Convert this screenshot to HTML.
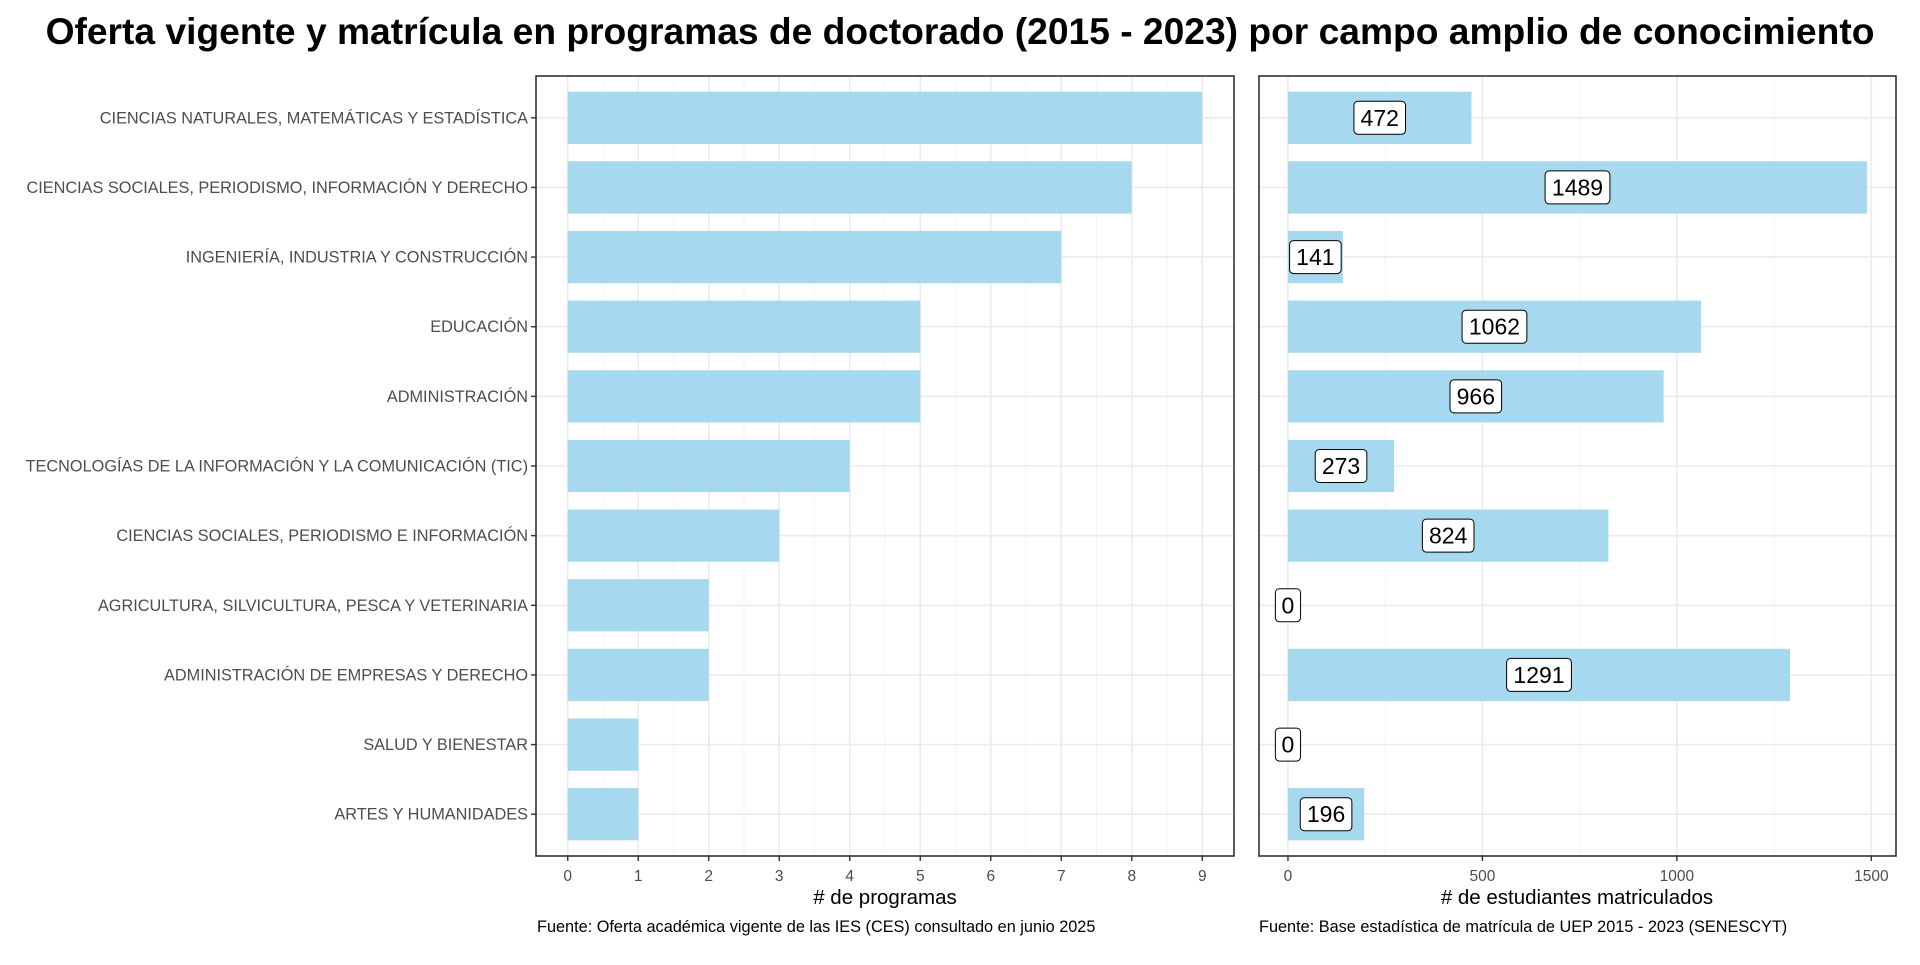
<!DOCTYPE html>
<html><head><meta charset="utf-8"><style>
html,body{margin:0;padding:0;background:#fff;}
svg text{font-family:"Liberation Sans",Arial,sans-serif;}
</style></head><body>
<svg id="chart" width="1920" height="960" viewBox="0 0 1920 960" xmlns="http://www.w3.org/2000/svg">
<text x="960" y="44" text-anchor="middle" font-size="37.2" font-weight="bold" fill="#000">Oferta vigente y matrícula en programas de doctorado (2015 - 2023) por campo amplio de conocimiento</text>
<g id="left"></g>
<g id="right"></g>
<text x="885" y="904" text-anchor="middle" font-size="20.5" fill="#000"># de programas</text>
<text x="1577" y="904" text-anchor="middle" font-size="20.5" fill="#000"># de estudiantes matriculados</text>
<text x="537" y="932" font-size="16.3" fill="#000">Fuente: Oferta académica vigente de las IES (CES) consultado en junio 2025</text>
<text x="1259" y="932" font-size="16.3" fill="#000">Fuente: Base estadística de matrícula de UEP 2015 - 2023 (SENESCYT)</text>
</svg>
<script>
const categories = ["CIENCIAS NATURALES, MATEMÁTICAS Y ESTADÍSTICA","CIENCIAS SOCIALES, PERIODISMO, INFORMACIÓN Y DERECHO","INGENIERÍA, INDUSTRIA Y CONSTRUCCIÓN","EDUCACIÓN","ADMINISTRACIÓN","TECNOLOGÍAS DE LA INFORMACIÓN Y LA COMUNICACIÓN (TIC)","CIENCIAS SOCIALES, PERIODISMO E INFORMACIÓN","AGRICULTURA, SILVICULTURA, PESCA Y VETERINARIA","ADMINISTRACIÓN DE EMPRESAS Y DERECHO","SALUD Y BIENESTAR","ARTES Y HUMANIDADES"];
const programs = [9,8,7,5,5,4,3,2,2,1,1];
const students = [472,1489,141,1062,966,273,824,0,1291,0,196];
const leftTicks = [0,1,2,3,4,5,6,7,8,9];
const rightTicks = [0,500,1000,1500];

const NS="http://www.w3.org/2000/svg";
function mk(tag,attrs,parent,text){const e=document.createElementNS(NS,tag);for(const k in attrs)e.setAttribute(k,attrs[k]);if(text!==undefined)e.textContent=text;parent.appendChild(e);return e;}
const pTop=76,pBottom=856,nCat=categories.length;
const step=(pBottom-pTop)/(nCat-1+1.2);
function yPos(i){return pTop+step*(0.6+i);}
const barH=step*0.75;

function panel(g,x0,x1,dmin,dmax,ticks,minor,values,withLabels,name){
  const sx=v=>x0+(v-dmin)/(dmax-dmin)*(x1-x0);
  minor.forEach(v=>{const l=mk('line',{x1:sx(v),x2:sx(v),y1:pTop,y2:pBottom,stroke:'#f2f2f2','stroke-width':0.8},g);
    
    });
  ticks.forEach(v=>{const l=mk('line',{x1:sx(v),x2:sx(v),y1:pTop,y2:pBottom,stroke:'#ebebeb','stroke-width':1.6},g);
    
    });
  categories.forEach((c,i)=>{const l=mk('line',{x1:x0,x2:x1,y1:yPos(i),y2:yPos(i),stroke:'#ebebeb','stroke-width':1.6},g);
    
    });
  values.forEach((v,i)=>{const r=mk('rect',{x:sx(0),y:yPos(i)-barH/2,width:Math.max(0,sx(v)-sx(0)),height:barH,fill:'#a6d9ef'},g);
    
    });
  mk('rect',{x:x0,y:pTop,width:x1-x0,height:pBottom-pTop,fill:'none',stroke:'#333','stroke-width':1.6},g);
  ticks.forEach(v=>{mk('line',{x1:sx(v),x2:sx(v),y1:pBottom,y2:pBottom+5,stroke:'#333','stroke-width':1.4},g);
    const t=mk('text',{x:sx(v),y:881,'text-anchor':'middle','font-size':15.5,fill:'#4d4d4d'},g,String(v));
    
    });
  if(withLabels){
    values.forEach((v,i)=>{const cx=sx(v/2),s=String(v);
      const w=s.length*13.2+12,h=33;
      const b=mk('rect',{x:cx-w/2,y:yPos(i)-h/2,width:w,height:h,rx:4,fill:'#fff',stroke:'#000','stroke-width':1},g);
      
      
      const t=mk('text',{x:cx,y:yPos(i)+8,'text-anchor':'middle','font-size':23,fill:'#000'},g,s);
      
      });
  }
  return sx;
}
const L=document.getElementById('left'),R=document.getElementById('right');
const lx0=536,lx1=1234;
panel(L,lx0,lx1,-0.45,9.45,leftTicks,[0.5,1.5,2.5,3.5,4.5,5.5,6.5,7.5,8.5],programs,false,'programs');
panel(R,1259,1896,-74.45,1563.45,rightTicks,[250,750,1250],students,true,'students');
categories.forEach((c,i)=>{mk('line',{x1:lx0-5,x2:lx0,y1:yPos(i),y2:yPos(i),stroke:'#333','stroke-width':1.4},L);
  const t=mk('text',{x:lx0-8,y:yPos(i)+5.5,'text-anchor':'end','font-size':16.3,fill:'#4d4d4d'},L,c);
  
  });
</script>
</body></html>
